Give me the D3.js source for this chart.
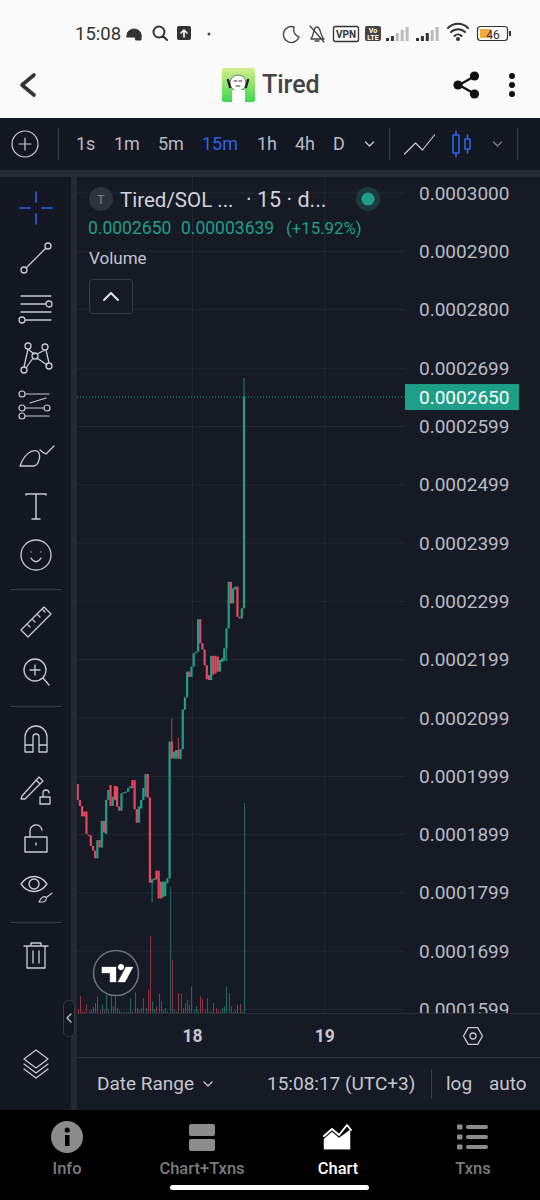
<!DOCTYPE html>
<html>
<head>
<meta charset="utf-8">
<script src="https://cdn.jsdelivr.net/npm/d3@7"></script>
<style>
html, body { margin: 0; padding: 0; background: #000; }
svg { display: block; }
text { font-family: Roboto, sans-serif; }
</style>
</head>
<body>
<div id="root"></div>
<script>
// candle values, in units of 1e-7 SOL
var opens = [1986,1959,1948.5,1939,1939,1899,1898,1880,1872,1859,1890,1877.5,1923,1900.5,1959,1984.5,1948.5,1983,1982,1947.5,1940.5,1970,1972,1973,1979,1993,1993,1943,1920,1944.5,1959,1964.5,2003.4,1963,1817,1821.5,1837.5,1837.5,1818.7,1792,1794,1816,1824.4,2059,2030,2030,2044.6,2029,2046,2114,2135,2179,2170,2187.5,2210.4,2213,2268.7,2227.5,2217,2190,2173,2164.6,2206,2206,2204.7,2179,2196,2198,2219,2253.3,2333,2296,2320,2324.8,2273,2270.4,2287.6];
var closes = [1959,1948.5,1931,1931,1900.5,1897,1880,1872,1859,1890,1877.5,1923,1903,1959,1976,1948.5,1964.5,1959,1947.5,1940.5,1970,1972,1973,1979,1982,1979,1943,1920,1947.5,1959,1979,2003.4,1963,1817,1822.7,1824.4,1822.7,1790,1790,1818.7,1818.7,1824.4,2059,2030,2041.7,2044.6,2030,2046,2114,2135,2179,2170,2187.5,2210.4,2213,2268.7,2227.5,2217,2190,2166,2164.6,2206,2174,2176,2179,2199,2202,2219,2253.3,2333,2296,2322,2324.8,2273,2270.4,2287.6,2650];
var highs = [1986,1959,1948.5,1939,1939,1899,1898,1880,1872,1890,1890,1923,1923,1959,1976,1984.5,1964.5,1983,1982,1947.5,1970,1972,1973,1979,1982,1993,1993,1943,1947.5,1959,1979,2003.4,2003.4,1963,1822.7,1824.4,1837.5,1837.5,1818.7,1818.7,1818.7,1824.4,2059,2098,2041.7,2044.6,2066,2046,2114,2135,2179,2179,2187.5,2210.4,2213,2268.7,2268.7,2227.5,2217,2190,2173,2206,2206,2206,2204.7,2199,2202,2219,2253.3,2333,2333,2322,2324.8,2324.8,2273,2287.6,2682.7];
var lows = [1959,1948.5,1931,1931,1900.5,1897,1880,1872,1859,1859,1877.5,1877.5,1903,1900.5,1959,1948.5,1948.5,1959,1947.5,1940.5,1940.5,1970,1972,1973,1979,1979,1943,1920,1920,1944.5,1959,1964.5,1963,1817,1782.7,1821.5,1822.7,1790,1790,1792,1794,1816,1824.4,2030,2030,2030,2030,2029,2046,2114,2135,2170,2170,2187.5,2210.4,2213,2227.5,2217,2190,2166,2164.6,2164.6,2174,2176,2179,2179,2196,2198,2196,2253.3,2296,2296,2320,2273,2270.4,2270.4,2287.6];
var volumes = [10,50,5,5,25,8,10,18,30,50,8,25,8,55,10,50,20,50,15,8,3,3,3,3,45,5,62,15,10,15,45,15,70,232,35,12,20,58,35,10,15,5,380,160,10,5,60,58,15,30,40,25,80,10,20,5,50,42,10,45,5,5,30,15,8,5,15,20,80,60,20,5,8,25,28,5,630];
var priceTicks = [3000,2900,2800,2699.5,2599.5,2499.5,2399.5,2299.5,2199.5,2099.5,1999.5,1899.5,1799.5,1699.5,1599.5];
var dayIndexes = [52.5,112.9];
var dayLabels = ['18','19'];
var lastPrice = 2650;
var intervals = ['1s','1m','5m','15m','1h','4h','D'];
var intervalX = [76,114,158,202,257,295,333];
var navLabels = ['Info','Chart+Txns','Chart','Txns'];
var navX = [67,202,338,473];

var GREEN = '#1f9e88', RED = '#e5485c', ICON = '#c9ccd3', TEXT = '#b8bbc4';

var svg = d3.select('#root').append('svg').attr('width', 540).attr('height', 1200);

function rect(x, y, w, h, fill) {
    return svg.append('rect').attr('x', x).attr('y', y).attr('width', w).attr('height', h).attr('fill', fill);
}
function label(parent, x, y, s, size, fill, anchor, weight) {
    return parent.append('text').attr('x', x).attr('y', y).text(s)
        .attr('font-size', size).attr('fill', fill)
        .attr('text-anchor', anchor || 'start').attr('font-weight', weight || 400);
}
// icon is a path string drawn around 0,0
function icon(x, y, d, color, width, fill) {
    return svg.append('path').attr('transform', 'translate(' + x + ',' + y + ')').attr('d', d)
        .attr('fill', fill || 'none').attr('stroke', color || ICON).attr('stroke-width', width || 1.3)
        .attr('stroke-linecap', 'round').attr('stroke-linejoin', 'round');
}
function circ(r, cx, cy) {
    cx = cx || 0; cy = cy || 0;
    return 'M' + (cx - r) + ' ' + cy + 'a' + r + ' ' + r + ' 0 1 0 ' + (2 * r) + ' 0a' + r + ' ' + r + ' 0 1 0 ' + (-2 * r) + ' 0';
}

// backgrounds
rect(0, 0, 540, 118, '#fafafa');
rect(0, 118, 540, 52, '#131722');
rect(0, 170, 540, 940, '#252934');
rect(0, 177, 71, 933, '#131722');
rect(77, 177, 463, 933, '#161a25');
rect(77, 1057, 463, 1, '#2a2e39');
rect(77, 1013, 463, 1, '#2a2e39');
rect(0, 1110, 540, 90, '#000');

// chart scales
var x = d3.scaleLinear().domain([0, opens.length - 1]).range([77.7, 244]);
var y = d3.scaleLinear().domain([3000, 1599.5]).range([193, 1009.5]);
var yVol = d3.scaleLinear().domain([0, 630]).range([1013, 803]);

svg.append('defs').append('clipPath').attr('id', 'pane')
    .append('rect').attr('x', 77).attr('y', 177).attr('width', 463).attr('height', 836);

var pane = svg.append('g').attr('clip-path', 'url(#pane)');

// grid
pane.selectAll('.hgrid').data(priceTicks).enter().append('line')
    .attr('x1', 77).attr('x2', 405).attr('y1', d => y(d)).attr('y2', d => y(d))
    .attr('stroke', '#242833');
pane.selectAll('.vgrid').data(dayIndexes).enter().append('line')
    .attr('x1', d => x(d)).attr('x2', d => x(d)).attr('y1', 177).attr('y2', 1013)
    .attr('stroke', '#242833');

// volume
pane.selectAll('.vol').data(volumes).enter().append('rect')
    .attr('x', (d, i) => Math.round(x(i))).attr('width', 1)
    .attr('y', d => yVol(d)).attr('height', d => yVol(0) - yVol(d))
    .attr('fill', (d, i) => closes[i] >= opens[i] ? GREEN : RED)
    .attr('opacity', 0.6);

// candles
var candles = pane.selectAll('.candle').data(opens).enter().append('g');
candles.append('line')
    .attr('x1', (d, i) => x(i)).attr('x2', (d, i) => x(i))
    .attr('y1', (d, i) => y(highs[i])).attr('y2', (d, i) => y(lows[i]))
    .attr('stroke', (d, i) => closes[i] >= opens[i] ? GREEN : RED)
    .attr('stroke-width', 0.8);
candles.append('rect')
    .attr('x', (d, i) => x(i) - 1.1).attr('width', 2.2)
    .attr('y', (d, i) => y(Math.max(opens[i], closes[i])))
    .attr('height', (d, i) => Math.max(1, Math.abs(y(opens[i]) - y(closes[i]))))
    .attr('fill', (d, i) => closes[i] >= opens[i] ? GREEN : RED);

// last price line
pane.append('line').attr('x1', 77).attr('x2', 405).attr('y1', y(lastPrice)).attr('y2', y(lastPrice))
    .attr('stroke', GREEN).attr('stroke-dasharray', '1 2');

// price axis
var axis = d3.axisRight(y).tickValues(priceTicks).tickSize(0).tickPadding(0)
    .tickFormat(d => (Math.floor(d) / 1e7).toFixed(7));
var axisG = pane.append('g').attr('transform', 'translate(419,0)').call(axis);
axisG.select('.domain').remove();
axisG.selectAll('text').attr('font-size', 19).attr('fill', TEXT).attr('font-family', 'Roboto, sans-serif');

rect(405, y(lastPrice) - 13, 114, 26, '#1c9f86');
label(svg, 419, y(lastPrice) + 7, (lastPrice / 1e7).toFixed(7), 19, '#fff');

// time axis
dayIndexes.forEach(function(d, i) {
    label(svg, x(d), 1042, dayLabels[i], 17.5, '#c4c7cf', 'middle', 700);
});
icon(473, 1036, 'M-9.5 0L-4.7 -8.3H4.7L9.5 0L4.7 8.3H-4.7Z' + circ(3), ICON, 1.3);

// legend
svg.append('circle').attr('cx', 101).attr('cy', 199).attr('r', 12).attr('fill', '#2e323d');
label(svg, 101, 204, 'T', 13, '#7b7f8a', 'middle');
label(svg, 120, 207, 'Tired/SOL ...', 20.5, '#d1d4dc');
label(svg, 246, 207, '· 15 · d...', 21.5, '#d1d4dc');
svg.append('circle').attr('cx', 368).attr('cy', 199).attr('r', 12).attr('fill', '#1d3b3c');
svg.append('circle').attr('cx', 368).attr('cy', 199).attr('r', 6.5).attr('fill', '#1c9f86');
label(svg, 88, 234, '0.0002650', 17.5, GREEN);
label(svg, 181, 234, '0.00003639', 17.5, GREEN);
label(svg, 286, 234, '(+15.92%)', 16.8, GREEN);
label(svg, 89, 264, 'Volume', 17, '#c4c7cf');
rect(89.5, 279.5, 43, 34, '#161a25').attr('stroke', '#363a45').attr('rx', 3);
icon(111, 296, 'M-7 4L0 -3L7 4', '#e0e3ea', 2);

// TradingView badge
svg.append('circle').attr('cx', 116).attr('cy', 973).attr('r', 22.5).attr('fill', '#161a25').attr('stroke', '#6f727b').attr('stroke-width', 1.5);
icon(116, 974, 'M-14 -7H0V8H-6V-1H-14Z M2 -7A3 3 0 1 1 2 -6.9 M10 -7H17L9 8H2Z', '#fff', 0.3, '#fff');

// status bar
label(svg, 75, 40, '15:08', 18.5, '#333');
icon(134, 33, 'M-7 2a7 6 0 0 1 14 0v2h-14z M1 2h6v5h-5z', '#333', 1, '#333');
icon(160, 33, circ(5.5, -1, -1) + 'M3 3L7 7', '#333', 2);
rect(177, 26, 14, 14, '#333').attr('rx', 2);
icon(184, 33, 'M0 4V-3M-3 0L0 -3L3 0', '#fff', 1.6);
svg.append('circle').attr('cx', 209).attr('cy', 34).attr('r', 1.5).attr('fill', '#444');
icon(291, 34, 'M3 -7A8 8 0 1 0 8 3A8 8 0 0 1 3 -7Z', '#444', 1.4);
icon(317, 34, 'M-6 5C-3 2 -4 -7 0 -7C4 -7 3 2 7 5ZM-2 7H2M-7 -8L7 8', '#444', 1.3);
rect(333.5, 26.5, 25, 15, '#fafafa').attr('stroke', '#333').attr('stroke-width', 1.3).attr('rx', 2);
label(svg, 346, 37.500, 'VPN', 10, '#333', 'middle', 700);
rect(365, 26, 16, 15, '#444').attr('rx', 2);
label(svg, 373, 33, 'Vo', 7, '#fff', 'middle', 700);
label(svg, 373, 40, 'LTE', 7, '#fff', 'middle', 700);
[386, 416].forEach(function(sx) {
    [3, 5, 8, 11, 14].forEach(function(h, i) {
        rect(sx + i * 4.9, 41 - h, 3, h, i < 2 || (sx > 400 && i < 3) ? '#333' : '#bbb');
    });
});
icon(458, 31, 'M-10 -3A14 14 0 0 1 10 -3M-7 1A10 10 0 0 1 7 1M-3.5 5A5 5 0 0 1 3.5 5', '#333', 2);
svg.append('circle').attr('cx', 458).attr('cy', 39).attr('r', 2).attr('fill', '#333');
rect(477.5, 26.5, 30, 14, '#fafafa').attr('stroke', '#333').attr('stroke-width', 1.2).attr('rx', 3);
rect(480, 29, 11, 9, '#f2a93b').attr('rx', 1);
label(svg, 493, 38.500, '46', 12, '#333', 'middle');
rect(509, 31, 2, 5, '#333');

// app header
icon(28, 85, 'M6 -10L-6 0L6 10', '#333', 3.6);
svg.append('defs').append('linearGradient').attr('id', 'ava').attr('x1', 0).attr('x2', 0).attr('y1', 0).attr('y2', 1)
    .call(g => g.append('stop').attr('offset', 0).attr('stop-color', '#d5ee8d'))
    .call(g => g.append('stop').attr('offset', 1).attr('stop-color', '#3fd64f'));
rect(222, 68, 33, 34, 'url(#ava)').attr('rx', 2);
svg.append('ellipse').attr('cx', 238).attr('cy', 83).attr('rx', 8).attr('ry', 8).attr('fill', '#fff').attr('stroke', '#444').attr('stroke-width', 0.7);
rect(232, 90, 13, 12, '#fff');
icon(238, 82, 'M-10 -2L-8 5M10 -2L8 5', '#222', 2.4);
icon(238, 82, 'M-4 -1H-1M1 -1H4M-2 4H2', '#333', 1);
label(svg, 262, 93, 'Tired', 25, '#444', 'start', 500);
icon(467, 85, 'M8 -9L-8 0L8 9', '#111', 2.4);
[[458, 85], [474.500, 76], [474.500, 94]].forEach(p => svg.append('circle').attr('cx', p[0]).attr('cy', p[1]).attr('r', 4.6).attr('fill', '#111'));
[76, 85, 94].forEach(cy => svg.append('circle').attr('cx', 512).attr('cy', cy).attr('r', 3).attr('fill', '#111'));

// top toolbar
icon(25, 144, circ(13) + 'M-6 0H6M0 -6V6', ICON, 1.2);
[58, 389, 517].forEach(sx => rect(sx, 128, 1, 32, '#3a3e49'));
intervals.forEach(function(s, i) {
    label(svg, intervalX[i], 150, s, 18, s == '15m' ? '#2f62e6' : TEXT);
});
icon(369.500, 144, 'M-4 -2L0 2L4 -2', ICON, 1.3);
icon(419.500, 144, 'M-15 10L-4 -1L3 6L15 -9', ICON, 1.2);
icon(461, 144, 'M-8 -9H-2V9H-8ZM-5 -13V-9M-5 9V13M4 -5H9V5H4ZM6.500 -9V-5M6.500 5V9', '#2f62e6', 1.6);
icon(497.500, 144, 'M-4 -2L0 2L4 -2', '#7c808a', 1.3);

// left toolbar
var cx = 36;
icon(cx, 208, 'M0 -16V-6M0 6V16M-16 0H-6M6 0H16', '#2f62e6', 1.6);
icon(cx, 258, circ(3, -12, 12) + circ(3, 12, -12) + 'M-10 10L10 -10');
icon(cx, 307, 'M-15 -11H15M-15 -3H10M-15 5H15M-10 13H15' + circ(3, 13, -3) + circ(3, -14, 13));
icon(cx, 356, circ(3, -8, -10) + circ(3, 9, -9) + circ(3, -1, 0) + circ(3, -12, 14) + circ(3, 13, 10) + 'M-8 -7L-2 -2M-8 -7L-12 11M9 -6L1 -2M10 -6L13 7M1 2L11 9M-3 2L-10 12');
icon(cx, 407, circ(3, -14, -13) + circ(3, -14, 1) + circ(3, 11, 1) + circ(3, -14, 9) + 'M-11 -13H13M-11 1H8M-11 9H13M-6 -4L10 -9', ICON, 1.2);
icon(cx, 457, 'M-16 9C-12 -2 -5 -8 1 -6C6 -3 3 9 -3 9ZM4 -7C6 -5 8 -4 10 -3L18 -11', ICON, 1.3);
icon(cx, 506, 'M-10 -11V-12H10V-11M0 -12V13M-4 13H4', ICON, 1.5);
icon(cx, 555, circ(15) + 'M-5 3C-2 8 2 8 5 3M-5 -3V-3M5 -3V-3', ICON, 1.3);
[589, 706, 922].forEach(sy => rect(11, sy, 50, 1, '#3a3e49'));
icon(cx, 622, 'M-15 8L8 -15L15 -8L-8 15ZM-9 2L-6 5M-4 -3L-1 0M1 -8L4 -5M6 -13L9 -10', ICON, 1.3);
icon(cx, 671, circ(11, -1, -1) + 'M7 7L13 14M-6 -1H4M-1 -6V4', ICON, 1.3);
icon(cx, 739, 'M-11 13V-2A11 11 0 0 1 11 -2V13H3V-2A3 3 0 0 0 -3 -2V13ZM-11 6H-3M3 6H11', ICON, 1.3);
icon(cx - 3, 787, 'M-11 9L-12 12L-8 12L10 -6L6 -10Z M3 -7L7 -3', ICON, 1.3);
icon(cx + 9, 797, 'M-5 0H5V7H-5ZM-2 0V-4A3 3 0 0 1 4 -4', ICON, 1.3);
icon(cx, 839, 'M-11 -2H11V13H-11ZM-6 -2V-7A6 6 0 0 1 6 -9M0 4V6', ICON, 1.4);
icon(cx - 2, 884, 'M-13 0C-6 -10 6 -10 13 0C6 10 -6 10 -13 0Z' + circ(5), ICON, 1.4);
icon(cx + 9, 899, 'M-6 3C-4 -2 -1 -3 1 -2C2 1 0 3 -3 3ZM2 -2L7 -6', ICON, 1.1);
icon(cx, 955, 'M-12 -9H12M-5 -9V-12H5V-9M-9 -9V13H9V-9M-3 -4V8M3 -4V8', ICON, 1.3);
icon(cx, 1063, 'M0 -13L12 -4L0 5L-12 -4ZM-12 1L0 10L12 1M-12 6L0 15L12 6', ICON, 1.2);

// collapse handle
rect(63.5, 1000.5, 11, 36, '#131722').attr('stroke', '#363a45').attr('rx', 5);
icon(69, 1018, 'M2 -4L-2 0L2 4', ICON, 1.2);

// bottom bar
label(svg, 97, 1090, 'Date Range', 19, '#c4c7cf');
icon(208, 1084, 'M-4 -2L0 2L4 -2', ICON, 1.3);
label(svg, 267, 1090, '15:08:17 (UTC+3)', 19, '#c4c7cf');
rect(431, 1069, 1, 30, '#3a3e49');
label(svg, 446, 1090, 'log', 19, '#c4c7cf');
label(svg, 489, 1090, 'auto', 19, '#c4c7cf');

// nav
var NAV = '#8c8c8c';
svg.append('circle').attr('cx', 67).attr('cy', 1137).attr('r', 16).attr('fill', NAV);
rect(65, 1135, 4.5, 11, '#000');
svg.append('circle').attr('cx', 67.2).attr('cy', 1130).attr('r', 2.6).attr('fill', '#000');
rect(189, 1124, 26, 12, NAV).attr('rx', 2);
rect(189, 1139, 26, 12, NAV).attr('rx', 2);
icon(337, 1137, 'M-13 12V2L-5 -5L2 1L13 -7V12Z', '#fff', 0.5, '#fff');
icon(337, 1137, 'M-13 -1L-5 -8L2 -2L10 -12L14 -7', '#fff', 2);
[1127, 1137, 1147].forEach(function(sy) {
    rect(457, sy - 2.5, 5.5, 5, NAV).attr('rx', 1);
    rect(466, sy - 2, 22, 4, NAV).attr('rx', 2);
});
navLabels.forEach(function(s, i) {
    label(svg, navX[i], 1174, s, 16.5, s == 'Chart' ? '#fff' : '#7b7b7b', 'middle', 500);
});
rect(170, 1185, 199, 5, '#fff').attr('rx', 2.5);
</script>
</body>
</html>
